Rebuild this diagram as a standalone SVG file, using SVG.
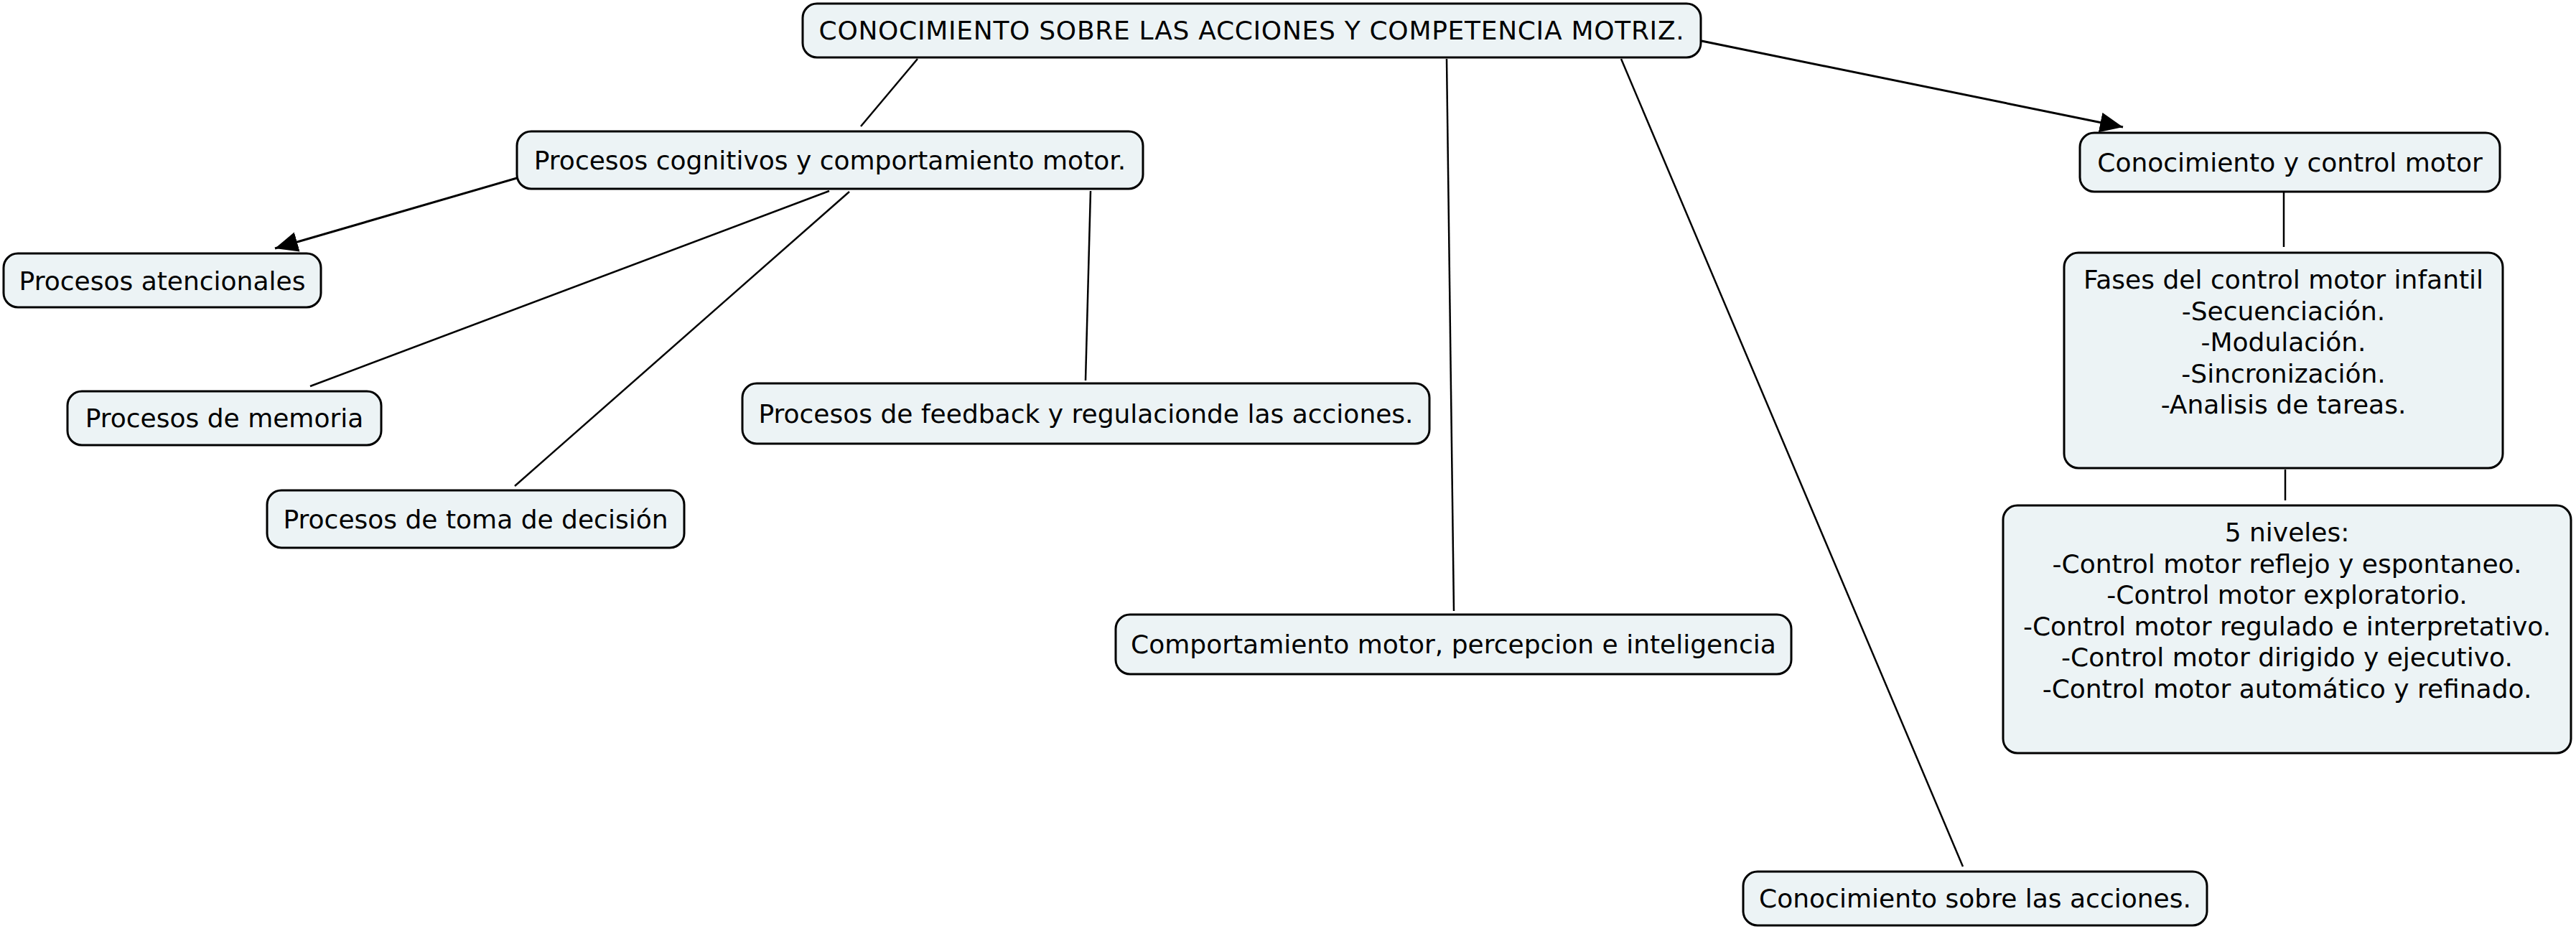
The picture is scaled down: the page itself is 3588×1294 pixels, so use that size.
<svg xmlns="http://www.w3.org/2000/svg" width="3588" height="1294" viewBox="0 0 3588 1294">
<style>
.box{fill:#ECF3F5;stroke:#000;stroke-width:3}
.t{font-family:"DejaVu Sans",Verdana,sans-serif;font-size:36px;fill:#000;text-anchor:middle}
.title{letter-spacing:0.7px}
.ln{stroke:#000;stroke-width:2.5;fill:none}
.ar{stroke:#000;stroke-width:3;fill:none;marker-end:url(#ah)}
</style>
<defs>
<marker id="ah" markerWidth="34" markerHeight="30" refX="32" refY="14" orient="auto" markerUnits="userSpaceOnUse">
<path d="M0,0 L32,14 L0,28 z" fill="#000"/>
</marker>
</defs>
<rect width="3588" height="1294" fill="#fff"/>
<g id="connectors">
<line class="ln" x1="1278" y1="82" x2="1199" y2="176"/>
<line class="ln" x1="2015" y1="82" x2="2025" y2="851"/>
<line class="ln" x1="2258" y1="82" x2="2734" y2="1207"/>
<line class="ar" x1="2370" y1="57" x2="2957" y2="177"/>
<line class="ar" x1="720" y1="248" x2="383" y2="346"/>
<line class="ln" x1="1155" y1="266" x2="432" y2="538"/>
<line class="ln" x1="1183" y1="267" x2="717" y2="677"/>
<line class="ln" x1="1519" y1="266" x2="1512" y2="530"/>
<line class="ln" x1="3181" y1="268" x2="3181" y2="344"/>
<line class="ln" x1="3183" y1="654" x2="3183" y2="697"/>
</g>
<g id="n-main">
<rect class="box" x="1118" y="5" width="1251" height="75" rx="20"/>
<text class="t title" x="1743.5" y="55">CONOCIMIENTO SOBRE LAS ACCIONES Y COMPETENCIA MOTRIZ.</text>
</g>
<g id="n-cognitivos">
<rect class="box" x="720" y="183" width="872" height="80" rx="20"/>
<text class="t" x="1156" y="236">Procesos cognitivos y comportamiento motor.</text>
</g>
<g id="n-atencionales">
<rect class="box" x="5" y="353" width="442" height="75" rx="20"/>
<text class="t" x="226" y="403.5">Procesos atencionales</text>
</g>
<g id="n-memoria">
<rect class="box" x="94" y="545" width="437" height="75" rx="20"/>
<text class="t" x="312.5" y="595">Procesos de memoria</text>
</g>
<g id="n-decision">
<rect class="box" x="372" y="683" width="581" height="80" rx="20"/>
<text class="t" x="662.5" y="736">Procesos de toma de decisión</text>
</g>
<g id="n-feedback">
<rect class="box" x="1034" y="534" width="957" height="84" rx="20"/>
<text class="t" x="1512.5" y="589">Procesos de feedback y regulacionde las acciones.</text>
</g>
<g id="n-comportamiento">
<rect class="box" x="1554" y="856" width="941" height="83" rx="20"/>
<text class="t" x="2024.5" y="910">Comportamiento motor, percepcion e inteligencia</text>
</g>
<g id="n-acciones">
<rect class="box" x="2428" y="1214" width="646" height="75" rx="20"/>
<text class="t" x="2751" y="1264">Conocimiento sobre las acciones.</text>
</g>
<g id="n-control">
<rect class="box" x="2897" y="185" width="585" height="82" rx="20"/>
<text class="t" x="3189.5" y="239">Conocimiento y control motor</text>
</g>
<g id="n-fases">
<rect class="box" x="2875" y="352" width="611" height="300" rx="20"/>
<text class="t" x="3180.5" y="402">Fases del control motor infantil</text>
<text class="t" x="3180.5" y="445.5">-Secuenciación.</text>
<text class="t" x="3180.5" y="489">-Modulación.</text>
<text class="t" x="3180.5" y="532.5">-Sincronización.</text>
<text class="t" x="3180.5" y="576">-Analisis de tareas.</text>
</g>
<g id="n-niveles">
<rect class="box" x="2790" y="704" width="791" height="345" rx="20"/>
<text class="t" x="3185.5" y="754">5 niveles:</text>
<text class="t" x="3185.5" y="797.5">-Control motor reflejo y espontaneo.</text>
<text class="t" x="3185.5" y="841">-Control motor exploratorio.</text>
<text class="t" x="3185.5" y="884.5">-Control motor regulado e interpretativo.</text>
<text class="t" x="3185.5" y="928">-Control motor dirigido y ejecutivo.</text>
<text class="t" x="3185.5" y="971.5">-Control motor automático y refinado.</text>
</g>
</svg>
